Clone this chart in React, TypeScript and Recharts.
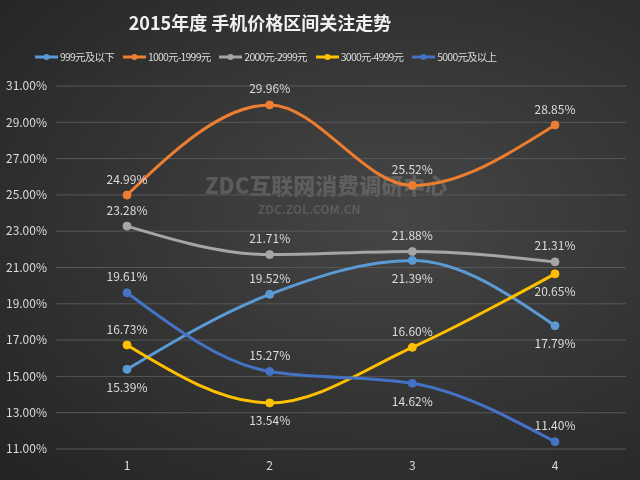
import { CartesianGrid, LabelList, Line, LineChart, XAxis, YAxis } from "recharts";

const FONT = '"Noto Sans CJK SC", "Noto Sans", sans-serif';
const TEXT = "#dcdcdc";

const categories = ["1", "2", "3", "4"];
const yTicks = [11, 13, 15, 17, 19, 21, 23, 25, 27, 29, 31];

const under999 = [15.39, 19.52, 21.39, 17.79];
const r1000 = [24.99, 29.96, 25.52, 28.85];
const r2000 = [23.28, 21.71, 21.88, 21.31];
const r3000 = [16.73, 13.54, 16.6, 20.65];
const over5000 = [19.61, 15.27, 14.62, 11.4];

// which side of the point each data label sits on
const sides999 = ["bottom", "top", "bottom", "bottom"];
const sides1000 = ["top", "top", "top", "top"];
const sides2000 = ["top", "top", "top", "top"];
const sides3000 = ["top", "bottom", "top", "bottom"];
const sides5000 = ["top", "top", "bottom", "top"];

const series = [
  { key: "a", name: "999元及以下", color: "#5b9bd5", values: under999, sides: sides999 },
  { key: "b", name: "1000元-1999元", color: "#ed7d31", values: r1000, sides: sides1000 },
  { key: "c", name: "2000元-2999元", color: "#a5a5a5", values: r2000, sides: sides2000 },
  { key: "d", name: "3000元-4999元", color: "#ffc000", values: r3000, sides: sides3000 },
  { key: "e", name: "5000元及以上", color: "#4472c4", values: over5000, sides: sides5000 },
];

const data = categories.map((cat, i) => {
  const row: Record<string, string | number> = { cat };
  series.forEach((s) => (row[s.key] = s.values[i]));
  return row;
});

const makeLabel = (sides: string[]) => (props: any) => {
  const { x, y, value, index } = props;
  const dy = sides[index] === "top" ? -17 : 17;
  return (
    <text
      x={x}
      y={y + dy}
      textAnchor="middle"
      dominantBaseline="central"
      fill={TEXT}
      fontSize={12}
      fontFamily={FONT}
    >
      {Number(value).toFixed(2)}%
    </text>
  );
};

function LegendRow() {
  return (
    <div
      style={{
        position: "absolute",
        left: 35,
        top: 49,
        display: "flex",
        alignItems: "center",
        gap: 9,
        fontSize: 10.5,
        letterSpacing: -0.8,
        color: TEXT,
        fontFamily: FONT,
      }}
    >
      {series.map((s) => (
        <div key={s.key} style={{ display: "flex", alignItems: "center", gap: 2 }}>
          <svg width={23} height={10}>
            <line x1={0} y1={5} x2={23} y2={5} stroke={s.color} strokeWidth={3} />
            <circle cx={11.5} cy={5} r={3} fill={s.color} />
          </svg>
          <span>{s.name}</span>
        </div>
      ))}
    </div>
  );
}

export default function App() {
  return (
    <div
      style={{
        position: "fixed",
        left: 0,
        top: 0,
        width: 640,
        height: 480,
        overflow: "hidden",
        background: "radial-gradient(ellipse at 62% 45%, #464646 0%, #363636 45%, #232323 100%)",
        fontFamily: FONT,
      }}
    >
      <div
        style={{
          position: "absolute",
          top: 9,
          left: 0,
          width: 520,
          textAlign: "center",
          color: "#f0f0f0",
          fontSize: 18,
          fontWeight: 700,
        }}
      >
        2015年度 手机价格区间关注走势
      </div>
      <LegendRow />
      <div
        style={{
          position: "absolute",
          left: 205,
          top: 168,
          color: "rgba(140,140,140,0.4)",
          fontSize: 22,
          fontWeight: 900,
        }}
      >
        ZDC互联网消费调研中心
      </div>
      <div
        style={{
          position: "absolute",
          left: 258,
          top: 200,
          color: "rgba(140,140,140,0.35)",
          fontSize: 12,
          fontWeight: 700,
        }}
      >
        ZDC.ZOL.COM.CN
      </div>
      <div style={{ position: "absolute", left: 0, top: 0 }}>
        <LineChart width={640} height={480} data={data} margin={{ top: 86, right: 14, bottom: 0, left: 6 }}>
          <CartesianGrid vertical={false} stroke="#585858" strokeWidth={1} />
          <XAxis
            dataKey="cat"
            axisLine={false}
            tickLine={false}
            tickMargin={6}
            height={31}
            padding={{ left: 71, right: 71 }}
            tick={{ fill: TEXT, fontSize: 12, fontFamily: FONT }}
          />
          <YAxis
            domain={[11, 31]}
            ticks={yTicks}
            width={50}
            axisLine={false}
            tickLine={false}
            tickMargin={3}
            tickFormatter={(v: number) => `${v.toFixed(2)}%`}
            tick={{ fill: TEXT, fontSize: 12, fontFamily: FONT }}
          />
          {series.map((s) => (
            <Line
              key={s.key}
              dataKey={s.key}
              name={s.name}
              type="monotone"
              stroke={s.color}
              strokeWidth={3}
              dot={{ r: 4, fill: s.color, stroke: s.color, strokeWidth: 1 }}
              isAnimationActive={false}
            >
              <LabelList dataKey={s.key} content={makeLabel(s.sides)} />
            </Line>
          ))}
        </LineChart>
      </div>
    </div>
  );
}
